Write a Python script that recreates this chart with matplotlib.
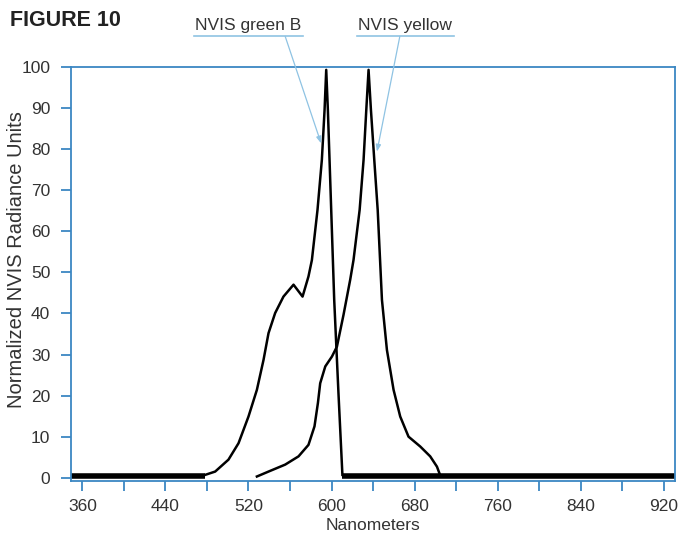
import matplotlib
matplotlib.use('Agg')
import numpy as np
import matplotlib.pyplot as plt
from matplotlib.lines import Line2D

plt.rcParams['font.family'] = ['Liberation Sans', 'DejaVu Sans']

# NVIS green B curve (nm, radiance)
green_nm = [478.3, 487.9, 500.7, 510.4, 520, 528.1, 534.5, 539.3, 545.7, 553.7, 563.4, 572.1,
            577.8, 581.1, 586.5, 590.7, 593.3, 594.9, 596.5, 602.6, 606.7, 610.5]
green_val = [0.7, 1.5, 4.4, 8.4, 14.9, 21.4, 28.7, 35.2, 40.1, 44.1, 47.0, 44.1,
             49.0, 53.0, 65.2, 77.4, 89.5, 99.3, 89.5, 43.3, 20.6, 0.7]

# NVIS yellow curve
yellow_nm = [528.1, 539.3, 555.4, 568.2, 577.8, 583.6, 586.9, 589.1, 594, 600.4, 605.2, 611.6,
             618, 621.2, 627.1, 630.9, 633.5, 635.7, 638, 641.2, 644.5, 648.6, 653.4, 659.8,
             666.2, 674.2, 685.5, 695.1, 701.6, 704.1]
yellow_val = [0.3, 1.5, 3.2, 5.2, 8.0, 12.5, 18.2, 23.0, 27.1, 29.5, 31.9, 39.7,
              48.2, 53.0, 65.2, 77.4, 89.5, 99.3, 89.5, 77.4, 65.2, 43.3, 31.1, 21.4,
              14.9, 10.0, 7.6, 5.2, 2.7, 1.0]

# flat zero baseline pieces
base_left = [349, 478.3]
base_right = [610.5, 931]
base_val = [0.5, 0.5]

xticks_major = [360, 440, 520, 600, 680, 760, 840, 920]
xticks_minor = [400, 480, 560, 640, 720, 800, 880]
yticks = [0, 10, 20, 30, 40, 50, 60, 70, 80, 90, 100]

blue = '#3b87c3'
light = '#8fc3e3'
txt = '#333333'

fig = plt.figure(figsize=(6.99, 5.35), dpi=100)
ax = fig.add_axes([0.1016, 0.1009, 0.8641, 0.7739])

ax.plot(green_nm, green_val, color='black', lw=1.8)
ax.plot(yellow_nm, yellow_val, color='black', lw=1.8)
ax.plot(base_left, base_val, color='black', lw=4, solid_capstyle='butt')
ax.plot(base_right, base_val, color='black', lw=4, solid_capstyle='butt')

ax.set_xlim(349, 931)
ax.set_ylim(-0.8, 100)
for s in ax.spines.values():
    s.set_color(blue)
    s.set_linewidth(1.3)

ax.set_xticks(xticks_major)
ax.set_xticks(xticks_minor, minor=True)
ax.set_yticks(yticks)
ax.tick_params(axis='both', which='both', direction='out', length=7, width=1.3, color=blue,
               labelsize=12.5, labelcolor=txt)
ax.tick_params(axis='x', pad=6)
ax.tick_params(axis='y', pad=8)

ax.set_xlabel('Nanometers', fontsize=12.5, color=txt, labelpad=3)
ax.set_ylabel('Normalized NVIS Radiance Units', fontsize=14.5, color=txt)
ax.yaxis.set_label_coords(-0.074, 0.534)

fig.text(0.015, 0.962, 'FIGURE 10', fontsize=15.5, fontweight='bold', color='#222222',
         ha='left', va='center')

# callouts
labels = [('NVIS green B', 0.355, 590, 81.4, 0.408), ('NVIS yellow', 0.58, 643.8, 79.4, 0.572)]
for name, xc, tx, ty, lx in labels:
    t = fig.text(xc, 0.952, name, fontsize=12.5, color=txt, ha='center', va='center')
    fig.canvas.draw()
    bb = t.get_window_extent().transformed(fig.transFigure.inverted())
    yl = bb.y0 - 0.006
    fig.add_artist(Line2D([bb.x0 - 0.002, bb.x1 + 0.002], [yl, yl], color=light, lw=1.2,
                          transform=fig.transFigure))
    ax.annotate('', xy=(tx, ty), xycoords='data', xytext=(lx, yl), textcoords='figure fraction',
                arrowprops=dict(arrowstyle='-|>,head_length=0.4,head_width=0.15', color=light,
                                lw=0.9, shrinkA=0, shrinkB=0), annotation_clip=False)

fig.savefig('out.png', dpi=100)
